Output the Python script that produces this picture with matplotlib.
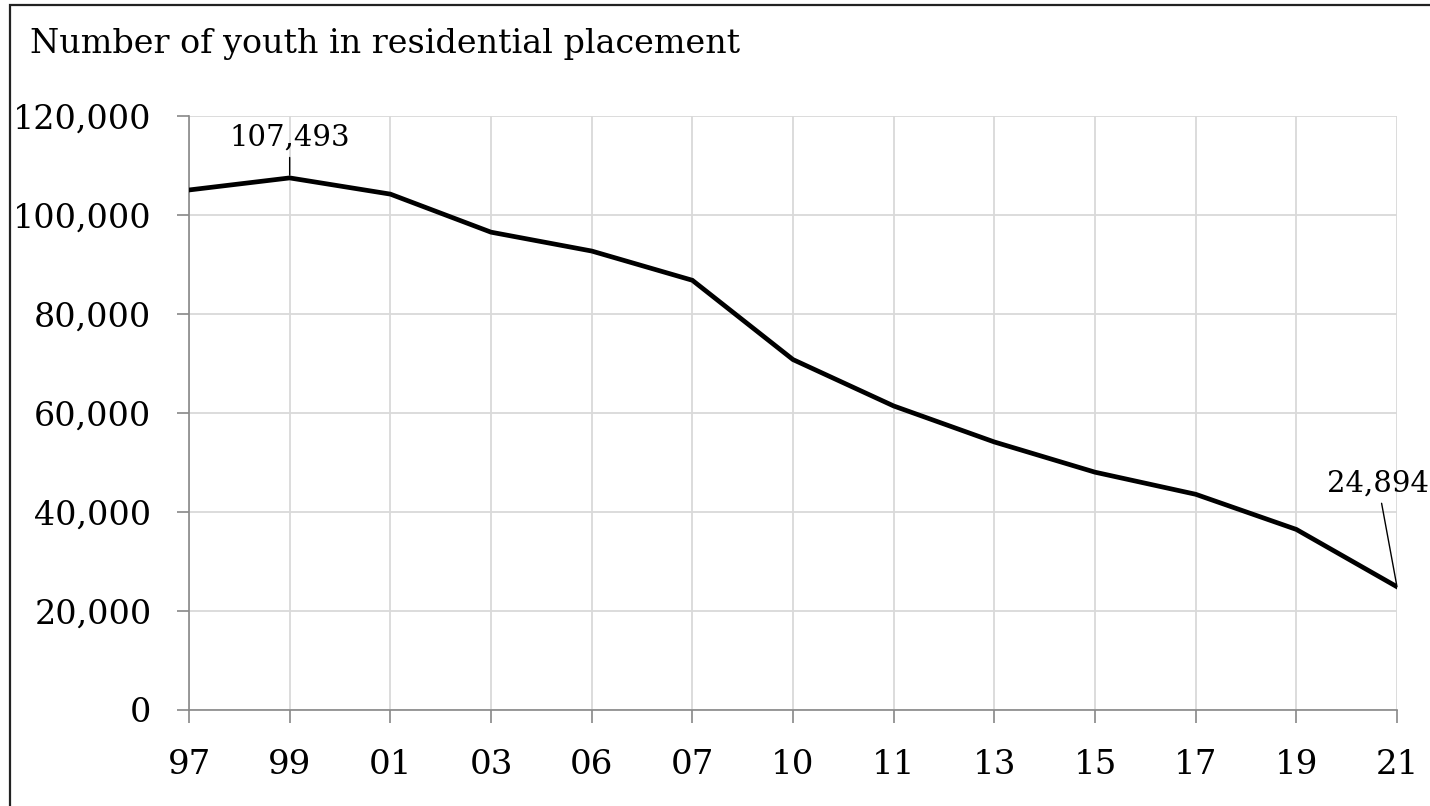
import numpy as np
import matplotlib
matplotlib.use('Agg')
import matplotlib.pyplot as plt
from matplotlib.patches import Rectangle

plt.rcParams['font.family'] = 'DejaVu Serif'

years = ['97', '99', '01', '03', '06', '07', '10', '11', '13', '15', '17', '19', '21']
youth = [105055, 107493, 104219, 96531, 92721, 86814, 70792,
         61423, 54148, 48043, 43580, 36479, 24894]
yticks = [0, 20000, 40000, 60000, 80000, 100000, 120000]

W, H = 1430, 806
fig = plt.figure(figsize=(W / 100, H / 100), dpi=100)
ax = fig.add_axes([189 / W, (H - 710) / H, (1397 - 189) / W, (710 - 116) / H])

x = np.arange(len(years))
ax.plot(x, youth, color='black', lw=3.4, solid_joinstyle='miter', zorder=3)

ax.set_xlim(0, len(years) - 1)
ax.set_ylim(0, 120000)
ax.set_xticks(x)
ax.set_xticklabels(years)
ax.set_yticks(yticks)
ax.set_yticklabels([f'{v:,}' for v in yticks])
ax.grid(True, color='#d9d9d9', lw=1.3)
ax.set_axisbelow(True)

for s in ['top', 'right']:
    ax.spines[s].set_visible(False)
for s in ['left', 'bottom']:
    ax.spines[s].set_color('#888888')
    ax.spines[s].set_linewidth(1.2)
ax.tick_params(axis='both', colors='#888888', labelcolor='black',
               length=9, width=1.2, labelsize=24)
ax.tick_params(axis='x', labelsize=24.5, pad=19)
ax.tick_params(axis='y', pad=18)

# value labels for the peak and the latest year
ax.annotate(f'{youth[1]:,}', xy=(1, youth[1]), xytext=(0, 32),
            textcoords='offset pixels', ha='center', va='baseline', fontsize=21,
            arrowprops=dict(arrowstyle='-', color='black', lw=1,
                            shrinkA=2, shrinkB=2))
ax.annotate(f'{youth[-1]:,}', xy=(12, youth[-1]), xytext=(-19, 95),
            textcoords='offset pixels', ha='center', va='baseline', fontsize=21,
            annotation_clip=False,
            arrowprops=dict(arrowstyle='-', color='black', lw=1,
                            shrinkA=2, shrinkB=0))

fig.text(30 / W, (H - 53) / H, 'Number of youth in residential placement',
         fontsize=24, ha='left', va='baseline')

# chart frame
fig.patches.append(Rectangle((10 / W, -0.05), 1.1, (H - 5) / H + 0.05,
                             transform=fig.transFigure, fill=False,
                             edgecolor='#222222', lw=1.6))

plt.savefig('out.png', dpi=100)
